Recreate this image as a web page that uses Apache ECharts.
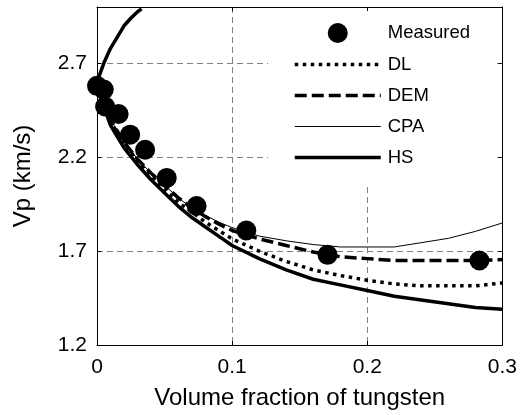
<!DOCTYPE html>
<html>
<head>
<meta charset="utf-8">
<script src="https://cdn.jsdelivr.net/npm/echarts@6/dist/echarts.min.js"></script>
<style>
html,body{margin:0;padding:0;background:#fff;}
#chart{width:520px;height:415px;}
</style>
</head>
<body>
<div id="chart"></div>
<script>
// ---- data ----
var xTicks = [0, 0.1, 0.2, 0.3];
var yTicks = [1.2, 1.7, 2.2, 2.7];

var measuredX = [0, 0.005, 0.006, 0.016, 0.0245, 0.0356, 0.0516, 0.0737, 0.1105, 0.1706, 0.283];
var measuredY = [2.58, 2.56, 2.47, 2.43, 2.32, 2.24, 2.09, 1.94, 1.81, 1.68, 1.65];

var modelX = [0, 0.005, 0.01, 0.02, 0.03, 0.04, 0.05, 0.06, 0.07, 0.08, 0.09, 0.10, 0.12, 0.14, 0.16, 0.18, 0.20, 0.22, 0.24, 0.26, 0.28, 0.30];
var dlY  = [2.60, 2.48, 2.39, 2.27, 2.18, 2.10, 2.03, 1.96, 1.91, 1.855, 1.81, 1.765, 1.70, 1.645, 1.60, 1.57, 1.545, 1.525, 1.515, 1.515, 1.515, 1.53];
var demY = [2.60, 2.49, 2.40, 2.28, 2.19, 2.115, 2.05, 1.985, 1.93, 1.885, 1.845, 1.81, 1.765, 1.73, 1.695, 1.67, 1.66, 1.65, 1.65, 1.65, 1.65, 1.655];
var cpaY = [2.60, 2.49, 2.40, 2.28, 2.19, 2.115, 2.05, 1.985, 1.93, 1.89, 1.855, 1.825, 1.78, 1.755, 1.735, 1.722, 1.722, 1.722, 1.745, 1.768, 1.805, 1.85];
var hsLowerY = [2.60, 2.47, 2.37, 2.25, 2.16, 2.08, 2.01, 1.94, 1.88, 1.83, 1.78, 1.73, 1.66, 1.60, 1.55, 1.52, 1.49, 1.46, 1.44, 1.42, 1.40, 1.39];

var hsUpperX = [0, 0.005, 0.01, 0.015, 0.02, 0.025, 0.03, 0.033];
var hsUpperY = [2.60, 2.70, 2.78, 2.84, 2.90, 2.94, 2.975, 2.99];

var legendNames = ['Measured', 'DL', 'DEM', 'CPA', 'HS'];
var xName = 'Volume fraction of tungsten';
var yName = 'Vp (km/s)';

function pairs(xs, ys) { return xs.map(function (x, i) { return [x, ys[i]]; }); }

var FONT = 'Liberation Sans, Arial, sans-serif';
var gridDash = { color: '#808080', type: [6, 4], width: 1 };

var styles = {
  DL:  { color: '#000', width: 3.5, type: [3.5, 4.5] },
  DEM: { color: '#000', width: 3.5, type: [12, 5] },
  CPA: { color: '#000', width: 1, type: 'solid' },
  HS:  { color: '#000', width: 3.5, type: 'solid' }
};

var legendData = legendNames.map(function (n) {
  return n === 'Measured' ? { name: n } : { name: n, itemStyle: { opacity: 0 }, lineStyle: styles[n] };
});

var chart = echarts.init(document.getElementById('chart'), null, { renderer: 'canvas' });
chart.setOption({
  animation: false,
  backgroundColor: '#fff',
  grid: { left: 97, right: 16, top: 7, bottom: 67, containLabel: false },
  legend: {
    orient: 'vertical',
    left: 268,
    top: 11,
    padding: [12, 24, 18, 25],
    backgroundColor: '#fff',
    itemWidth: 86,
    itemHeight: 20,
    itemGap: 12,
    textStyle: { fontFamily: FONT, fontSize: 18.5, color: '#000', padding: [0, 0, 0, 2] },
    data: legendData
  },
  xAxis: [{
    type: 'value', min: 0, max: 0.3, interval: 0.1,
    name: xName, nameLocation: 'middle', nameGap: 41,
    nameTextStyle: { fontFamily: FONT, fontSize: 24, color: '#000' },
    axisLine: { show: true, lineStyle: { color: '#000', width: 1 } },
    axisTick: { show: true, inside: true, length: 4, lineStyle: { color: '#000' } },
    axisLabel: { fontFamily: FONT, fontSize: 21, color: '#000', margin: 12,
      formatter: function (v) { return v === 0 ? '0' : v.toFixed(1); } },
    splitLine: { show: true, lineStyle: gridDash }
  }, {
    type: 'value', position: 'top', min: 0, max: 0.3, interval: 0.1,
    axisLine: { show: true, onZero: false, lineStyle: { color: '#000', width: 1 } },
    axisTick: { show: true, inside: true, length: 4, lineStyle: { color: '#000' } },
    axisLabel: { show: false }, splitLine: { show: false }
  }],
  yAxis: [{
    type: 'value', min: 1.2, max: 3.0, interval: 0.5,
    name: yName, nameLocation: 'middle', nameGap: 62, nameRotate: 90,
    nameTextStyle: { fontFamily: FONT, fontSize: 24, color: '#000' },
    axisLine: { show: true, lineStyle: { color: '#000', width: 1 } },
    axisTick: { show: true, inside: true, length: 4, lineStyle: { color: '#000' } },
    axisLabel: { fontFamily: FONT, fontSize: 21, color: '#000', margin: 10, showMaxLabel: false,
      formatter: function (v) { return Math.abs(v - 3.0) < 1e-6 ? '' : v.toFixed(1); } },
    splitLine: { show: true, lineStyle: gridDash }
  }, {
    type: 'value', position: 'right', min: 1.2, max: 3.0, interval: 0.5,
    axisLine: { show: true, onZero: false, lineStyle: { color: '#000', width: 1 } },
    axisTick: { show: true, inside: true, length: 4, lineStyle: { color: '#000' } },
    axisLabel: { show: false }, splitLine: { show: false }
  }],
  series: [
    { name: 'DL', type: 'line', data: pairs(modelX, dlY), symbol: 'none', showSymbol: false,
      lineStyle: styles.DL, itemStyle: { color: '#000' }, z: 3 },
    { name: 'DEM', type: 'line', data: pairs(modelX, demY), symbol: 'none', showSymbol: false,
      lineStyle: styles.DEM, itemStyle: { color: '#000' }, z: 3 },
    { name: 'CPA', type: 'line', data: pairs(modelX, cpaY), symbol: 'none', showSymbol: false,
      lineStyle: styles.CPA, itemStyle: { color: '#000' }, z: 3 },
    { name: 'HS', type: 'line', data: pairs(modelX, hsLowerY), symbol: 'none', showSymbol: false,
      lineStyle: styles.HS, itemStyle: { color: '#000' }, z: 3 },
    { name: 'HS', type: 'line', data: pairs(hsUpperX, hsUpperY), symbol: 'none', showSymbol: false,
      lineStyle: styles.HS, itemStyle: { color: '#000' }, z: 3 },
    { name: 'Measured', type: 'scatter', data: pairs(measuredX, measuredY), symbol: 'circle', symbolSize: 20,
      itemStyle: { color: '#000', opacity: 1 }, z: 5 }
  ]
});
</script>
</body>
</html>
